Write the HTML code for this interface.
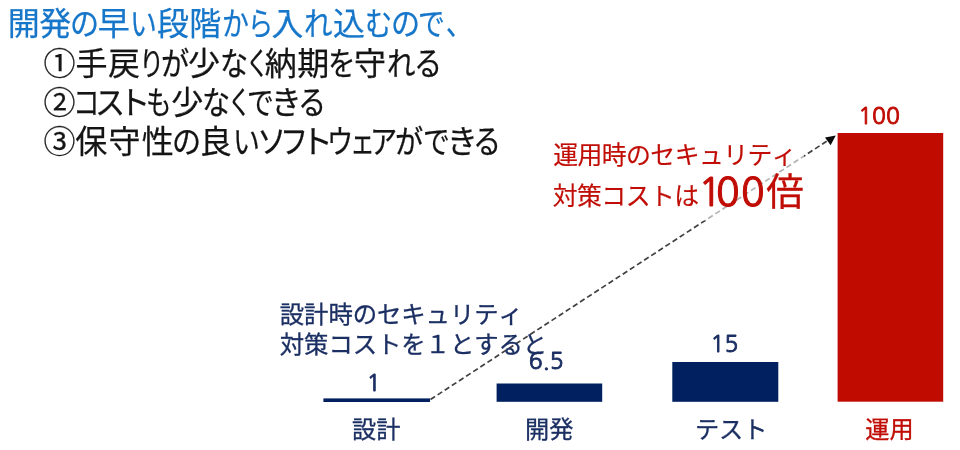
<!DOCTYPE html>
<html lang="ja">
<head>
<meta charset="utf-8">
<title>セキュリティ対策コスト</title>
<style>
html,body{margin:0;padding:0;background:#fff;}
body{width:960px;height:450px;overflow:hidden;position:relative;filter:blur(0.4px);font-family:"Liberation Sans","Noto Sans CJK JP",sans-serif;}
svg{display:block;position:absolute;left:0;top:0;font-family:"Liberation Sans","Noto Sans CJK JP",sans-serif;}
.num{font-family:"NanumGothic","Liberation Sans",sans-serif;}
.ln{position:absolute;left:0;height:32px;width:960px;font-size:32px;line-height:32px;white-space:nowrap;}
.ln span{position:absolute;top:0;display:block;width:1em;transform-origin:0 0;-webkit-text-stroke:0.25px currentColor;}
</style>
</head>
<body>
<svg width="960" height="450" viewBox="0 0 960 450">
<line x1="430.5" y1="399.5" x2="828" y2="140.4" stroke="#404040" stroke-width="1.7" stroke-dasharray="5.4 3.1"/>
<rect x="548" y="137" width="256" height="83.5" fill="#ffffff" fill-opacity="0.6"/>
<text x="565.6 589.9 614.2 638.5 662.8 687.1 711.4 735.7 760.0 784.3" y="164.2" font-size="24.9" fill="#c00d05" stroke="#c00d05" stroke-width="0.15" text-anchor="middle">運用時のセキュリティ</text>
<text x="565.2 589.5 613.8 638.1 662.4 686.7" y="205.2" font-size="24.9" fill="#c00d05" stroke="#c00d05" stroke-width="0.15" text-anchor="middle">対策コストは</text>
<text class="num" x="698.3 715.9 740.9" y="205.6" font-size="39" fill="#c00d05" stroke="#c00d05" stroke-width="1.1">100</text>
<text x="785.0" y="205.3" font-size="37.6" fill="#c00d05" stroke="#c00d05" stroke-width="0.3" text-anchor="middle">倍</text>
<text x="292.0 316.3 340.6 364.9 389.2 413.5 437.8 462.1 486.4 510.7" y="323" font-size="24.4" fill="#1b2f63" stroke="#1b2f63" stroke-width="0.3" text-anchor="middle">設計時のセキュリティ</text>
<text x="292.0 316.3 340.6 364.9 389.2 413.5 437.8 462.1 486.4 510.7 535.0" y="353" font-size="24.4" fill="#1b2f63" stroke="#1b2f63" stroke-width="0.3" text-anchor="middle">対策コストを１とすると</text>
<polygon points="835.8,135.4 825,137.5 830.6,145.2" fill="#0a0a0a"/>
<rect x="323.4" y="398.4" width="106.6" height="3.6" fill="#002060"/>
<rect x="496.6" y="383.5" width="105.6" height="18.3" fill="#002060"/>
<rect x="672.3" y="362" width="106" height="39.8" fill="#002060"/>
<rect x="837.6" y="133" width="105.6" height="268.7" fill="#c00c00"/>
<text class="num" x="373.8" y="390.5" font-size="23" fill="#1b2f63" stroke="#1b2f63" stroke-width="0.9" text-anchor="middle">1</text>
<text class="num" x="546.2" y="369.2" font-size="23" fill="#1b2f63" stroke="#1b2f63" stroke-width="0.9" text-anchor="middle">6.5</text>
<text class="num" x="724.4" y="352.2" font-size="23" fill="#1b2f63" stroke="#1b2f63" stroke-width="0.9" text-anchor="middle">15</text>
<text class="num" x="879.1" y="124.1" font-size="23" fill="#c00d05" stroke="#c00d05" stroke-width="0.9" text-anchor="middle">100</text>
<text x="376.3" y="437.8" font-size="24.2" fill="#1b2f63" stroke="#1b2f63" stroke-width="0.3" text-anchor="middle">設計</text>
<text x="549.2" y="437.8" font-size="24.2" fill="#1b2f63" stroke="#1b2f63" stroke-width="0.3" text-anchor="middle">開発</text>
<text x="731.2" y="437.8" font-size="24.2" fill="#1b2f63" stroke="#1b2f63" stroke-width="0.3" text-anchor="middle">テスト</text>
<text x="889.5" y="437.8" font-size="24.2" fill="#c00d05" stroke="#c00d05" stroke-width="0.3" text-anchor="middle">運用</text>
</svg>
<div class="ln" role="text" aria-label="開発の早い段階から入れ込むので、" style="top:7.9px;color:#1676c9"><span style="left:7.8px">開</span><span style="left:39.3px">発</span><span style="left:69.5px;transform:scaleX(0.91)">の</span><span style="left:97.7px">早</span><span style="left:130.3px;transform:scaleX(0.84)">い</span><span style="left:157.1px">段</span><span style="left:189.2px">階</span><span style="left:222.0px;transform:scaleX(0.84)">か</span><span style="left:247.7px;transform:scaleX(0.79)">ら</span><span style="left:271.6px">入</span><span style="left:304.1px;transform:scaleX(0.89)">れ</span><span style="left:333.1px">込</span><span style="left:364.8px;transform:scaleX(0.85)">む</span><span style="left:390.9px;transform:scaleX(0.91)">の</span><span style="left:417.9px;transform:scaleX(0.84)">で</span><span style="left:446.2px;transform:scaleX(0.8)">、</span></div>
<div class="ln" role="text" aria-label="①手戻りが少なく納期を守れる" style="top:48.0px;color:#141414"><span style="left:43.4px">①</span><span style="left:75.6px">手</span><span style="left:108.0px">戻</span><span style="left:139.3px;transform:scaleX(0.79)">り</span><span style="left:160.6px;transform:scaleX(0.88)">が</span><span style="left:187.9px">少</span><span style="left:219.9px;transform:scaleX(0.88)">な</span><span style="left:245.8px;transform:scaleX(0.72)">く</span><span style="left:264.8px">納</span><span style="left:297.2px">期</span><span style="left:328.0px;transform:scaleX(0.86)">を</span><span style="left:354.0px">守</span><span style="left:386.8px;transform:scaleX(0.89)">れ</span><span style="left:414.1px;transform:scaleX(0.88)">る</span></div>
<div class="ln" role="text" aria-label="②コストも少なくできる" style="top:87.1px;color:#141414"><span style="left:43.4px">②</span><span style="left:72.8px;transform:scaleX(0.83)">コ</span><span style="left:95.2px;transform:scaleX(0.94)">ス</span><span style="left:118.4px">ト</span><span style="left:146.3px;transform:scaleX(0.8)">も</span><span style="left:171.2px">少</span><span style="left:202.4px;transform:scaleX(0.88)">な</span><span style="left:228.2px;transform:scaleX(0.72)">く</span><span style="left:246.7px;transform:scaleX(0.84)">で</span><span style="left:270.7px;transform:scaleX(0.96)">き</span><span style="left:297.7px;transform:scaleX(0.88)">る</span></div>
<div class="ln" role="text" aria-label="③保守性の良いソフトウェアができる" style="top:126.1px;color:#141414"><span style="left:43.4px">③</span><span style="left:75.2px">保</span><span style="left:108.4px">守</span><span style="left:141.7px">性</span><span style="left:172.0px;transform:scaleX(0.91)">の</span><span style="left:199.8px">良</span><span style="left:233.1px;transform:scaleX(0.84)">い</span><span style="left:256.7px;transform:scaleX(0.92)">ソ</span><span style="left:280.4px;transform:scaleX(0.88)">フ</span><span style="left:301.0px">ト</span><span style="left:327.3px;transform:scaleX(0.82)">ウ</span><span style="left:349.5px;transform:scaleX(0.78)">ェ</span><span style="left:370.1px;transform:scaleX(0.85)">ア</span><span style="left:395.3px;transform:scaleX(0.88)">が</span><span style="left:422.9px;transform:scaleX(0.84)">で</span><span style="left:446.5px;transform:scaleX(0.96)">き</span><span style="left:472.7px;transform:scaleX(0.88)">る</span></div>
</body>
</html>
